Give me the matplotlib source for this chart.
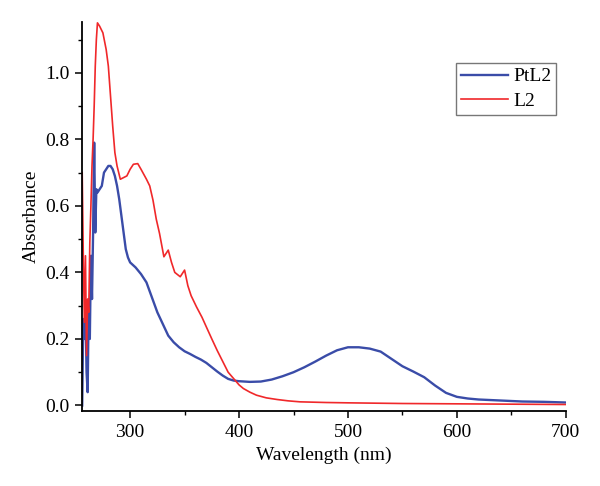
import matplotlib
matplotlib.use("Agg")
import matplotlib.pyplot as plt
from matplotlib.ticker import MultipleLocator, FormatStrFormatter

# PtL2 (blue)
ptl2_wl = [256, 257, 258, 259, 260, 261, 262, 263, 264, 265, 266, 267, 268, 269, 270,
           272, 274, 276, 278, 280, 282, 284, 286, 288, 290, 292, 294, 296, 298, 300,
           305, 310, 315, 320, 325, 330, 335, 340, 345, 350, 355, 360, 365, 370, 375,
           380, 385, 390, 395, 400, 410, 420, 430, 440, 450, 460, 470, 480, 490, 500,
           510, 520, 530, 540, 550, 560, 570, 580, 590, 600, 610, 620, 640, 660, 680, 700]
ptl2_abs = [0.0, 0.26, 0.20, 0.30, 0.10, 0.04, 0.32, 0.20, 0.45, 0.32, 0.52, 0.79, 0.52, 0.65, 0.64,
            0.65, 0.66, 0.70, 0.71, 0.72, 0.72, 0.71, 0.69, 0.66, 0.62, 0.57, 0.52, 0.47, 0.445, 0.43,
            0.415, 0.395, 0.37, 0.325, 0.28, 0.245, 0.21, 0.19, 0.175, 0.163, 0.155, 0.146, 0.138, 0.128, 0.115,
            0.102, 0.09, 0.08, 0.075, 0.073, 0.071, 0.072, 0.078, 0.088, 0.10, 0.115, 0.132, 0.15, 0.166, 0.175,
            0.175, 0.171, 0.162, 0.14, 0.118, 0.102, 0.085, 0.06, 0.038, 0.026, 0.021, 0.018, 0.015, 0.012, 0.011, 0.009]

# L2 (red)
l2_wl = [256, 257, 258, 259, 260, 261, 262, 263, 264, 265, 266, 267, 268, 269, 270,
         272, 275, 278, 280, 282, 284, 286, 288, 291, 294, 297, 300, 303, 307, 310,
         315, 318, 321, 324, 327, 331, 335, 338, 341, 346, 350, 353, 356, 361, 366,
         370, 375, 380, 386, 390, 395, 400, 404, 410, 416, 425, 435, 445, 456, 480,
         500, 550, 600, 650, 700]
l2_abs = [0.70, 0.45, 0.25, 0.45, 0.15, 0.32, 0.28, 0.49, 0.60, 0.72, 0.80, 0.90, 1.02, 1.10, 1.15,
          1.14, 1.12, 1.07, 1.02, 0.93, 0.84, 0.76, 0.72, 0.68, 0.685, 0.69, 0.71, 0.725, 0.727, 0.71,
          0.68, 0.66, 0.617, 0.56, 0.517, 0.447, 0.467, 0.43, 0.40, 0.387, 0.407, 0.36, 0.33, 0.296, 0.265,
          0.236, 0.20, 0.165, 0.126, 0.10, 0.081, 0.062, 0.051, 0.04, 0.031, 0.023, 0.018, 0.014, 0.011, 0.009,
          0.008, 0.006, 0.005, 0.004, 0.003]

plt.rcParams['font.family'] = ['Liberation Serif', 'DejaVu Serif']

fig = plt.figure(figsize=(6, 4.86), dpi=100)
ax = fig.add_axes([0.137, 0.154, 0.806, 0.801])

ax.plot(ptl2_wl, ptl2_abs, color='#3a4ca8', lw=1.7, label='PtL2')
ax.plot(l2_wl, l2_abs, color='#f0282a', lw=1.2, label='L2')

ax.set_xlim(256, 700)
ax.set_ylim(-0.017, 1.153)
ax.xaxis.set_major_locator(MultipleLocator(100))
ax.xaxis.set_minor_locator(MultipleLocator(50))
ax.yaxis.set_major_locator(MultipleLocator(0.2))
ax.yaxis.set_minor_locator(MultipleLocator(0.1))
ax.yaxis.set_major_formatter(FormatStrFormatter('%.1f'))

for s in ['top', 'right']:
    ax.spines[s].set_visible(False)
for s in ['left', 'bottom']:
    ax.spines[s].set_linewidth(1.3)
ax.tick_params(which='major', length=5, width=1.1, labelsize=14, direction='out', pad=4)
ax.tick_params(which='minor', length=3, width=1.0, direction='out')

ax.set_xlabel('Wavelength (nm)', fontsize=14, labelpad=4)
ax.set_ylabel('Absorbance', fontsize=14, labelpad=4)

leg = ax.legend(loc='upper left', bbox_to_anchor=(456 / 600, 1 - 63 / 486),
                bbox_transform=fig.transFigure, borderaxespad=0,
                fontsize=14, frameon=True, fancybox=False, edgecolor='#555555',
                handlelength=2.4, borderpad=0.25, labelspacing=0.35, handletextpad=0.3)
leg.get_frame().set_linewidth(1.0)

fig.savefig('out.png', dpi=100)
